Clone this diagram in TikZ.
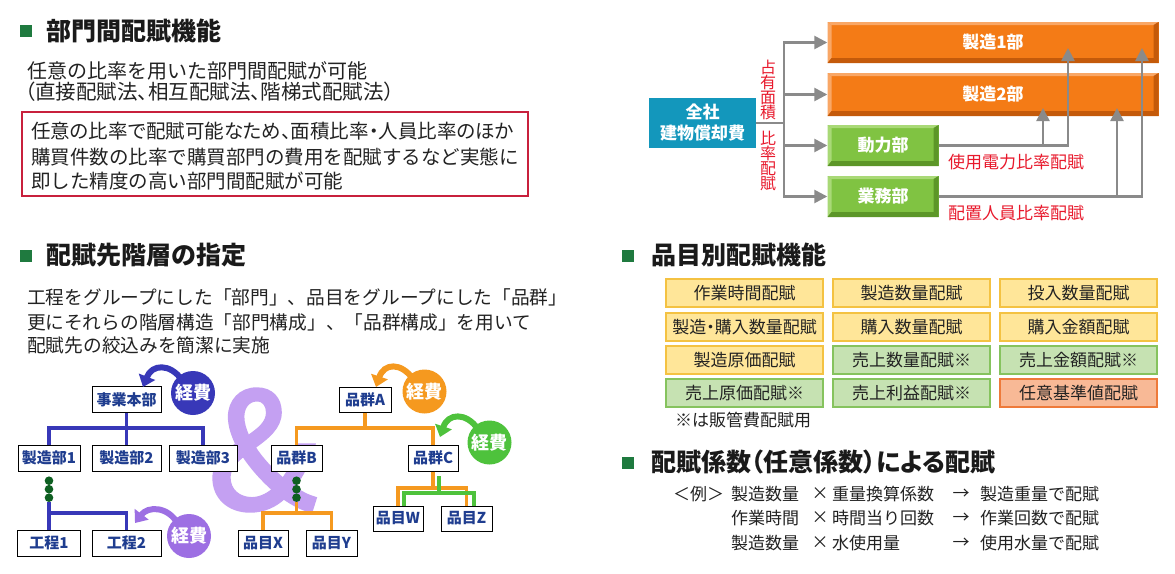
\documentclass[tikz,border=0pt]{standalone}
\usepackage{fontspec}
\setmainfont{Noto Sans CJK JP}
\newfontfamily\paltfont[RawFeature=+palt]{Noto Sans CJK JP}
\newfontfamily\ampfont[FakeBold=2.5]{Noto Sans CJK JP}
\usetikzlibrary{arrows.meta}
\newcommand\fsz[1]{\fontsize{#1}{#1}\selectfont}
\definecolor{titlec}{HTML}{1A1A1A}
\definecolor{bodyc}{HTML}{222222}
\definecolor{sqgreen}{HTML}{1F7A3F}
\definecolor{redbox}{HTML}{C8203C}
\definecolor{tealc}{HTML}{1397BC}
\definecolor{orM}{HTML}{F47B16}
\definecolor{orL}{HTML}{F9A766}
\definecolor{orD}{HTML}{C45A0A}
\definecolor{grM}{HTML}{80C342}
\definecolor{grL}{HTML}{A9D977}
\definecolor{grD}{HTML}{5C9628}
\definecolor{glc}{HTML}{8A8A8A}
\definecolor{redl}{HTML}{E8192C}
\definecolor{navy}{HTML}{1F3D8F}
\definecolor{blueC}{HTML}{3838B8}
\definecolor{orangeC}{HTML}{F5991F}
\definecolor{greenC}{HTML}{4EC23C}
\definecolor{purpC}{HTML}{9D6FE3}
\definecolor{ampC}{HTML}{C4A0F2}
\definecolor{dotg}{HTML}{0E5F21}
\definecolor{yelF}{HTML}{FFE699}
\definecolor{yelB}{HTML}{F4C242}
\definecolor{grnF}{HTML}{C6E2B2}
\definecolor{grnB}{HTML}{86C35E}
\definecolor{salF}{HTML}{F8B996}
\definecolor{salB}{HTML}{EE7A3A}
\begin{document}
\begin{tikzpicture}[x=1pt,y=-1pt,
  title/.style={anchor=west, inner sep=0, font=\fsz{25}\bfseries, text=titlec},
  body/.style={anchor=west, inner sep=0, font=\fsz{19}, text=bodyc},
  sq/.style={fill=sqgreen, minimum size=12pt, inner sep=0},
  hbox/.style={draw=black, line width=1pt, fill=white, inner sep=0, minimum height=26pt, font=\fsz{15}\bfseries, text=navy},
  bev/.style n args={3}{fill=#1, inner sep=0, text=white, font=\fsz{17}\bfseries,
    path picture={
      \fill[#2] (path picture bounding box.north west) -- (path picture bounding box.north east)
        -- ([shift={(-4pt,-3pt)}]path picture bounding box.north east) -- ([shift={(4pt,-3pt)}]path picture bounding box.north west) -- cycle;
      \fill[#2] (path picture bounding box.north west) -- ([shift={(4pt,-3pt)}]path picture bounding box.north west)
        -- ([shift={(4pt,5pt)}]path picture bounding box.south west) -- (path picture bounding box.south west) -- cycle;
      \fill[#3] (path picture bounding box.south west) -- ([shift={(4pt,5pt)}]path picture bounding box.south west)
        -- ([shift={(-5pt,5pt)}]path picture bounding box.south east) -- (path picture bounding box.south east) -- cycle;
      \fill[#3] (path picture bounding box.north east) -- (path picture bounding box.south east)
        -- ([shift={(-5pt,5pt)}]path picture bounding box.south east) -- ([shift={(-5pt,-3pt)}]path picture bounding box.north east) -- cycle;
    }},
  gline/.style={draw=glc, line width=2.5pt},
  garrow/.style={draw=glc, line width=2.5pt, -{Triangle[width=13pt,length=13pt]}},
  keihi/.style={circle, fill=#1, minimum size=44pt, inner sep=0, text=white, font=\fsz{18}\bfseries},
  carrow/.style={draw=#1, line width=6pt, -{Triangle[width=17pt,length=11pt]}},
  bline/.style={draw=blueC, line width=3.5pt},
  oline/.style={draw=orangeC, line width=3.5pt},
  gnline/.style={draw=greenC, line width=3.5pt},
  dot/.style={circle, fill=dotg, minimum size=8.6pt, inner sep=0},
  cell/.style n args={2}{fill=#1, draw=#2, line width=1.5pt, minimum width=157pt, minimum height=28pt, inner sep=0, font=\fsz{17}, text=bodyc},
  redlab/.style={inner sep=0, text=redl, font=\fsz{17}}
]
\useasboundingbox[fill=white] (0,0) rectangle (1175,573);

% ---------- Section 1 ----------
\node[sq] (sq1) at (26,31) {};
\node[title] (t1) at (46,31) {部門間配賦機能};
\node[body, font=\fsz{20}] (l1) at (27,71) {任意の比率を用いた部門間配賦が可能};
\node[body, font=\paltfont\fsz{20.5}] (l2) at (25,92) {（直接配賦法、相互配賦法、階梯式配賦法）};
\node[draw=redbox, line width=2pt, minimum width=506pt, minimum height=84pt, inner sep=0] (rbox) at (275,154) {};
\node[body, font=\paltfont\fsz{19.5}] (b1) at (31,131) {任意の比率で配賦可能なため、面積比率・人員比率のほか};
\node[body, font=\fsz{19.5}] (b2) at (31,157) {購買件数の比率で購買部門の費用を配賦するなど実態に};
\node[body, font=\fsz{19.5}] (b3) at (31,181) {即した精度の高い部門間配賦が可能};

% ---------- Top right diagram ----------
\node[fill=tealc, minimum width=107pt, minimum height=50pt, inner sep=0, text=white,
      font=\fontsize{17}{21}\selectfont\bfseries, align=center] (zen) at (702.5,123) {全社\\建物償却費};
\node[bev={orM}{orL}{orD}, minimum width=331pt, minimum height=41pt] (s1) at (993,42.5) {製造1部};
\node[bev={orM}{orL}{orD}, minimum width=331pt, minimum height=43pt] (s2) at (993,94.5) {製造2部};
\node[bev={grM}{grL}{grD}, minimum width=111pt, minimum height=41pt] (dor) at (883,145.5) {動力部};
\node[bev={grM}{grL}{grD}, minimum width=111pt, minimum height=41pt] (gyo) at (883,196.5) {業務部};
\node[inner sep=0, text=redl, font=\fontsize{16}{15}\selectfont, align=center] (lab1) at (768,90) {占\\有\\面\\積};
\node[inner sep=0, text=redl, font=\fontsize{16}{15}\selectfont, align=center] (lab2) at (768,161) {比\\率\\配\\賦};
\node[redlab] (lab3) at (1016,162) {使用電力比率配賦};
\node[redlab] (lab4) at (1016,213) {配置人員比率配賦};
\coordinate (bus) at (784,123);
\draw[gline] (zen.east) -- (bus);
\draw[garrow] (bus) |- (s1.west);
\draw[garrow] (bus) |- (s2.west);
\draw[garrow] (bus) |- (dor.west);
\draw[garrow] (bus) |- (gyo.west);
\coordinate (u1) at (1068,48);
\coordinate (u2) at (1043,108);
\coordinate (j1) at (1043,145.5);
\coordinate (u3) at (1142,48);
\coordinate (u4) at (1117,108);
\coordinate (j2) at (1117,196.5);
\draw[garrow] (dor.east) -| (u1);
\draw[garrow] (j1) -- (u2);
\draw[garrow] (gyo.east) -| (u3);
\draw[garrow] (j2) -- (u4);

% ---------- Section 2 ----------
\node[sq] (sq2) at (26,256) {};
\node[title] (t2) at (46,255) {配賦先階層の指定};
\node[body, font=\fsz{18.7}] (h1) at (27,297) {工程をグループにした「部門」、品目をグループにした「品群」};
\node[body, font=\fsz{18.7}] (h2) at (27,322) {更にそれらの階層構造「部門構成」、「品群構成」を用いて};
\node[body, font=\fsz{18.7}] (h3) at (27,345) {配賦先の絞込みを簡潔に実施};

% ampersand
\node[inner sep=0, text=ampC, font=\ampfont\fsz{160}] (amp) at (263,450) {\&};

% left hierarchy
\node[hbox, minimum width=69pt] (jig) at (126.5,399.5) {事業本部};
\node[hbox, minimum width=62pt] (m1) at (49,458) {製造部1};
\node[hbox, minimum width=69pt] (m2) at (126.5,458) {製造部2};
\node[hbox, minimum width=68pt] (m3) at (203,458) {製造部3};
\node[hbox, minimum width=63pt] (k1) at (49,543) {工程1};
\node[hbox, minimum width=69pt] (k2) at (126.5,543) {工程2};
\coordinate (bj) at (126.5,428);
\draw[bline] (jig.south) -- (m2.north);
\draw[bline] (m1.north) |- (bj) -| (m3.north);
\node[dot] (da1) at (49,480.7) {};
\node[dot] (da2) at (49,489.2) {};
\node[dot] (da3) at (49,497.7) {};
\coordinate (kb) at (49,513);
\draw[bline] (da3.south) -- (k1.north);
\draw[bline] (kb) -| (k2.north);

% right hierarchy
\node[hbox, minimum width=52pt, minimum height=25pt] (gA) at (365,399.5) {品群A};
\node[hbox, minimum width=51pt] (gB) at (296.5,458) {品群B};
\node[hbox, minimum width=50pt] (gC) at (433,458) {品群C};
\node[hbox, minimum width=50pt] (iX) at (263,543) {品目X};
\node[hbox, minimum width=51pt] (iY) at (331.5,543) {品目Y};
\node[hbox, minimum width=50pt, minimum height=25pt] (iW) at (398,518.5) {品目W};
\node[hbox, minimum width=51pt, minimum height=25pt] (iZ) at (466.5,518.5) {品目Z};
\coordinate (oa) at (365,428);
\draw[oline] (gA.south) -- (oa);
\draw[oline] (gB.north) |- (oa) -| (gC.north);
\node[dot] (db1) at (296.5,480.7) {};
\node[dot] (db2) at (296.5,489.2) {};
\node[dot] (db3) at (296.5,497.7) {};
\coordinate (ob) at (296.5,513);
\draw[oline] (db3.south) -- (ob);
\draw[oline] (iX.north) |- (ob) -| (iY.north);
\coordinate (oc) at (433,488);
\draw[oline] (gC.south) -- (oc);
\draw[oline] (iW.north) |- (oc) -| (iZ.north);
\coordinate (gc1) at (439,476);
\coordinate (gc2) at (439,493);
\draw[gnline] (gc1) -- (gc2);
\draw[gnline] ([xshift=6pt]iW.north) |- (gc2) -| ([xshift=7.5pt]iZ.north);

% 経費 circles and curved arrows
\draw[carrow=blueC] (182,380) .. controls (170,363) and (152,364) .. (143,387);
\node[keihi=blueC] (kb1) at (193,393) {経費};
\draw[carrow=purpC] (178,524) .. controls (168,506) and (148,506) .. (135,523);
\node[keihi=purpC] (kb2) at (189,536) {経費};
\draw[carrow=orangeC] (413,379) .. controls (401,362) and (384,363) .. (376,387);
\node[keihi=orangeC] (kb3) at (424.5,391.5) {経費};
\draw[carrow=greenC] (478,429) .. controls (466,412) and (448,413) .. (440,437);
\node[keihi=greenC] (kb4) at (489.5,442.5) {経費};

% ---------- Section 3 ----------
\node[sq] (sq3) at (628,256) {};
\node[title] (t3) at (651,255) {品目別配賦機能};
\node[cell={yelF}{yelB}] (c11) at (744.5,293) {作業時間配賦};
\node[cell={yelF}{yelB}] (c12) at (911.5,293) {製造数量配賦};
\node[cell={yelF}{yelB}] (c13) at (1078.5,293) {投入数量配賦};
\node[cell={yelF}{yelB}, font=\paltfont\fsz{17}] (c21) at (744.5,327) {製造・購入数量配賦};
\node[cell={yelF}{yelB}] (c22) at (911.5,327) {購入数量配賦};
\node[cell={yelF}{yelB}] (c23) at (1078.5,327) {購入金額配賦};
\node[cell={yelF}{yelB}] (c31) at (744.5,360) {製造原価配賦};
\node[cell={grnF}{grnB}] (c32) at (911.5,360) {売上数量配賦※};
\node[cell={grnF}{grnB}] (c33) at (1078.5,360) {売上金額配賦※};
\node[cell={grnF}{grnB}] (c41) at (744.5,393) {売上原価配賦※};
\node[cell={grnF}{grnB}] (c42) at (911.5,393) {売上利益配賦※};
\node[cell={salF}{salB}] (c43) at (1078.5,393) {任意基準値配賦};
\node[body, font=\fsz{17}] (note) at (675,420) {※は販管費配賦用};

% ---------- Section 4 ----------
\node[sq] (sq4) at (628,463) {};
\node[title, font=\paltfont\fsz{25}\bfseries] (t4) at (651,462) {配賦係数（任意係数）による配賦};
\node[body, font=\fsz{17}] (ex) at (673,494) {＜例＞};
\node[body, font=\fsz{17}] (r1a) at (731,494) {製造数量};
\node[inner sep=0, font=\fsz{17}, text=bodyc] (r1x) at (820,494) {×};
\node[body, font=\fsz{17}] (r1b) at (832,494) {重量換算係数};
\node[inner sep=0, font=\fsz{17}, text=bodyc] (r1r) at (961,494) {→};
\node[body, font=\fsz{17}] (r1c) at (980,494) {製造重量で配賦};
\node[body, font=\fsz{17}] (r2a) at (731,518) {作業時間};
\node[inner sep=0, font=\fsz{17}, text=bodyc] (r2x) at (820,518) {×};
\node[body, font=\fsz{17}] (r2b) at (832,518) {時間当り回数};
\node[inner sep=0, font=\fsz{17}, text=bodyc] (r2r) at (961,518) {→};
\node[body, font=\fsz{17}] (r2c) at (980,518) {作業回数で配賦};
\node[body, font=\fsz{17}] (r3a) at (731,543) {製造数量};
\node[inner sep=0, font=\fsz{17}, text=bodyc] (r3x) at (820,543) {×};
\node[body, font=\fsz{17}] (r3b) at (832,543) {水使用量};
\node[inner sep=0, font=\fsz{17}, text=bodyc] (r3r) at (961,543) {→};
\node[body, font=\fsz{17}] (r3c) at (980,543) {使用水量で配賦};
\end{tikzpicture}
\end{document}
